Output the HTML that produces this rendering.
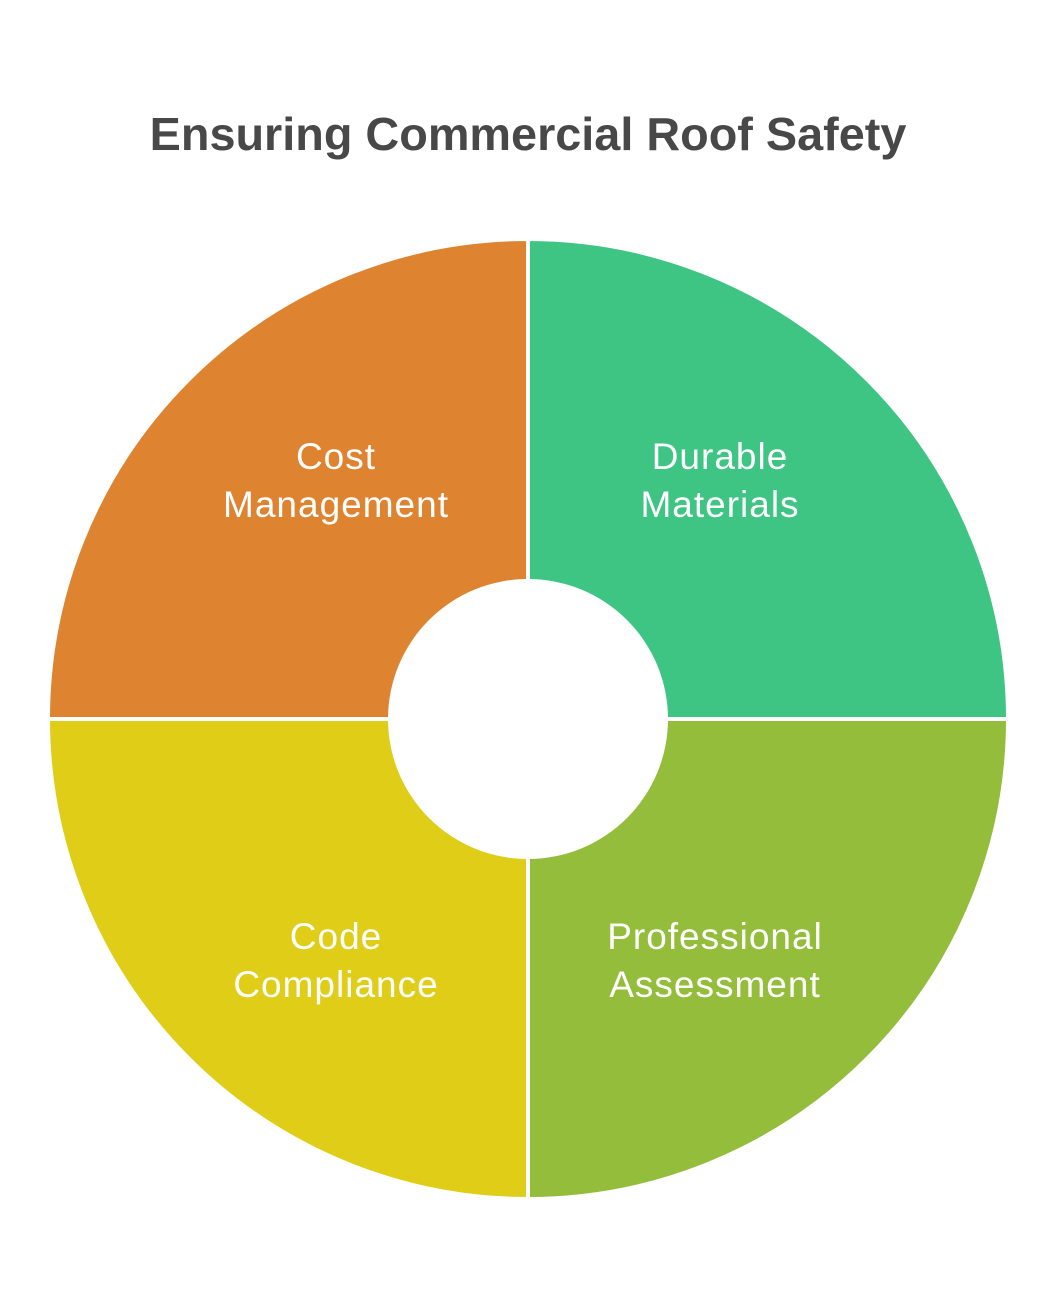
<!DOCTYPE html>
<html><head><meta charset="utf-8"><style>
html,body{margin:0;padding:0;background:#fff;}
body{width:1056px;height:1296px;overflow:hidden;}
</style></head><body>
<svg width="1056" height="1296" viewBox="0 0 1056 1296" xmlns="http://www.w3.org/2000/svg">
<rect width="1056" height="1296" fill="#fff"/>
<text x="528" y="150" text-anchor="middle" font-family="Liberation Sans, sans-serif" font-weight="bold" font-size="46.8" fill="#484848">Ensuring Commercial Roof Safety</text>
<g stroke="#fff" stroke-width="4">
<path d="M528 719 L528 239 A480 480 0 0 0 48 719 Z" fill="#DE8431"/>
<path d="M528 719 L1008 719 A480 480 0 0 0 528 239 Z" fill="#3EC483"/>
<path d="M528 719 L528 1199 A480 480 0 0 0 1008 719 Z" fill="#93BD3A"/>
<path d="M528 719 L48 719 A480 480 0 0 0 528 1199 Z" fill="#DFCD17"/>
</g>
<circle cx="528" cy="719" r="140" fill="#fff"/>
<g font-family="Liberation Sans, sans-serif" font-size="37" letter-spacing="1" fill="#fff" text-anchor="middle">
<text x="336" y="469">Cost</text><text x="336" y="517">Management</text>
<text x="720" y="469">Durable</text><text x="720" y="517">Materials</text>
<text x="336" y="949">Code</text><text x="336" y="997">Compliance</text>
<text x="715" y="949">Professional</text><text x="715" y="997">Assessment</text>
</g>
</svg>
</body></html>
